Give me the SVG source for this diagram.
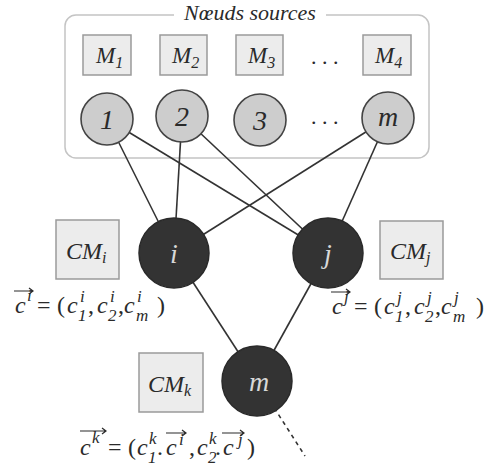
<svg xmlns="http://www.w3.org/2000/svg" width="488" height="470" viewBox="0 0 488 470">
<style>
.t{font-family:'Liberation Serif','Times New Roman',serif;font-style:italic;fill:#2a2a2a}
.f{font-size:24px}
.s{font-size:17px}
.u{font-style:normal}
.lbl{font-size:28px;text-anchor:middle}
.box{fill:#ececec;stroke:#9a9a9a;stroke-width:1.5}
.src{fill:#cdcdcd;stroke:#444;stroke-width:1.6}
.dark{fill:#333;stroke:#2a2a2a;stroke-width:1.5}
.wl{fill:#d8d8d8}
.edge{stroke:#333;stroke-width:1.6;fill:none}
.vec{stroke:#2a2a2a;stroke-width:1.2;fill:none}
</style>

<g id="sources-frame">
<rect x="65" y="15" width="364" height="143" rx="11" fill="none" stroke="#c4c4c4" stroke-width="1.5"/>
<rect x="174" y="4" width="152" height="22" fill="#fff"/>
<text class="t" x="250" y="20" font-size="22" text-anchor="middle">Nœuds sources</text>
</g>

<g id="connectors">
<line class="edge" x1="107" y1="119" x2="174" y2="253"/>
<line class="edge" x1="107" y1="119" x2="328" y2="253"/>
<line class="edge" x1="182" y1="116" x2="174" y2="253"/>
<line class="edge" x1="182" y1="116" x2="328" y2="253"/>
<line class="edge" x1="388" y1="118" x2="174" y2="253"/>
<line class="edge" x1="388" y1="118" x2="328" y2="253"/>
<line class="edge" x1="174" y1="253" x2="257" y2="381"/>
<line class="edge" x1="328" y1="253" x2="257" y2="381"/>
<line class="edge" x1="257" y1="381" x2="305" y2="456" stroke-dasharray="4 4"/>
</g>

<g id="M1"><rect class="box" x="83" y="35" width="48" height="40"/><text class="t" x="96" y="63" font-size="23">M<tspan font-size="16" dy="5">1</tspan></text></g>
<g id="M2"><rect class="box" x="160" y="35" width="47" height="40"/><text class="t" x="172" y="63" font-size="23">M<tspan font-size="16" dy="5">2</tspan></text></g>
<g id="M3"><rect class="box" x="236" y="35" width="47" height="40"/><text class="t" x="248" y="63" font-size="23">M<tspan font-size="16" dy="5">3</tspan></text></g>
<g id="M4"><rect class="box" x="363" y="35" width="48" height="40"/><text class="t" x="375" y="63" font-size="23">M<tspan font-size="16" dy="5">4</tspan></text></g>
<g id="dots-top"><text class="t u" x="311" y="64" font-size="22" letter-spacing="5.5">...</text></g>

<g id="n1"><circle class="src" cx="107" cy="119" r="26"/><text class="t lbl" x="107" y="129">1</text></g>
<g id="n2"><circle class="src" cx="182" cy="116" r="26"/><text class="t lbl" x="182" y="126">2</text></g>
<g id="n3"><circle class="src" cx="260" cy="120" r="26"/><text class="t lbl" x="260" y="130">3</text></g>
<g id="dots-row"><text class="t u" x="311" y="124" font-size="22" letter-spacing="5.5">...</text></g>
<g id="nm"><circle class="src" cx="388" cy="118" r="26"/><text class="t lbl" x="388" y="126">m</text></g>

<g id="node-i"><circle class="dark" cx="174" cy="253" r="35"/><text class="t lbl wl" x="174" y="263">i</text></g>
<g id="node-j"><circle class="dark" cx="328" cy="253" r="35"/><text class="t lbl wl" x="328" y="263">j</text></g>
<g id="node-m"><circle class="dark" cx="257" cy="381" r="35"/><text class="t lbl wl" x="259" y="391">m</text></g>

<g id="CMi"><rect class="box" x="56" y="220" width="63" height="59"/><text class="t" x="66" y="259" font-size="24">CM<tspan font-size="16" dy="4">i</tspan></text></g>
<g id="CMj"><rect class="box" x="380" y="221" width="63" height="58"/><text class="t" x="390" y="259" font-size="24">CM<tspan font-size="16" dy="4">j</tspan></text></g>
<g id="CMk"><rect class="box" x="139" y="353" width="64" height="59"/><text class="t" x="148" y="392" font-size="24">CM<tspan font-size="16" dy="4">k</tspan></text></g>

<g id="formula-i">
<path class="vec" d="M14 291 H33 M29 288 L33 291 L29 294"/>
<text class="t f" x="15" y="313">c</text><text class="t s" x="27" y="301">i</text>
<text class="t f u" x="37" y="313">=</text><text class="t f u" x="57" y="313">(</text>
<text class="t f" x="67" y="313">c</text><text class="t s" x="80" y="302">i</text><text class="t s" x="78" y="321">1</text>
<text class="t f u" x="88" y="313">,</text>
<text class="t f" x="97" y="313">c</text><text class="t s" x="110" y="302">i</text><text class="t s" x="108" y="321">2</text>
<text class="t f u" x="118" y="313">,</text>
<text class="t f" x="124" y="313">c</text><text class="t s" x="137" y="302">i</text><text class="t s" x="136" y="321">m</text>
<text class="t f u" x="157" y="313">)</text>
</g>

<g id="formula-j">
<path class="vec" d="M331 292 H350 M346 289 L350 292 L346 295"/>
<text class="t f" x="332" y="314">c</text><text class="t s" x="344" y="302">j</text>
<text class="t f u" x="354" y="314">=</text><text class="t f u" x="374" y="314">(</text>
<text class="t f" x="384" y="314">c</text><text class="t s" x="397" y="303">j</text><text class="t s" x="395" y="322">1</text>
<text class="t f u" x="405" y="314">,</text>
<text class="t f" x="414" y="314">c</text><text class="t s" x="427" y="303">j</text><text class="t s" x="425" y="322">2</text>
<text class="t f u" x="435" y="314">,</text>
<text class="t f" x="441" y="314">c</text><text class="t s" x="454" y="303">j</text><text class="t s" x="453" y="322">m</text>
<text class="t f u" x="476" y="314">)</text>
</g>

<g id="formula-k">
<path class="vec" d="M80 431 H106 M102 428 L106 431 L102 434"/>
<text class="t f" x="80" y="455">c</text><text class="t s" x="92" y="443">k</text>
<text class="t f u" x="108" y="455">=</text><text class="t f u" x="128" y="455">(</text>
<text class="t f" x="137" y="455">c</text><text class="t s" x="149" y="444">k</text><text class="t s" x="148" y="463">1</text>
<text class="t f u" x="157" y="455">.</text>
<path class="vec" d="M166 433 H186 M182 430 L186 433 L182 436"/>
<text class="t f" x="166" y="455">c</text><text class="t s" x="179" y="445">i</text>
<text class="t f u" x="189" y="455">,</text>
<text class="t f" x="197" y="455">c</text><text class="t s" x="209" y="444">k</text><text class="t s" x="208" y="463">2</text>
<text class="t f u" x="215" y="455">.</text>
<path class="vec" d="M222 433 H244 M240 430 L244 433 L240 436"/>
<text class="t f" x="223" y="455">c</text><text class="t s" x="238" y="445">j</text>
<text class="t f u" x="247" y="455">)</text>
</g>
</svg>
